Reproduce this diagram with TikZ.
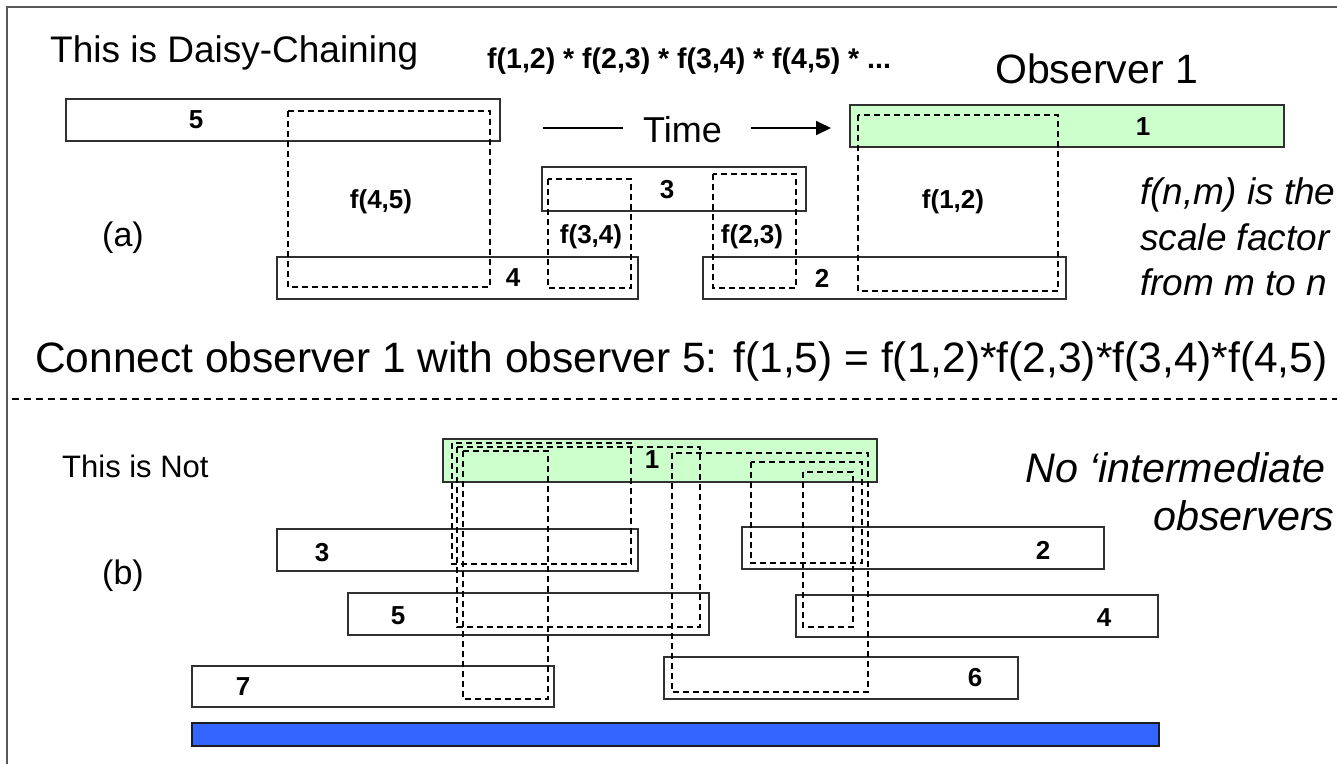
\documentclass[tikz,border=0pt]{standalone}
\usepackage{fontspec}
\setmainfont{Liberation Sans}
\usetikzlibrary{arrows.meta}
\definecolor{obsgreen}{HTML}{CCFFCC}
\definecolor{barblue}{HTML}{3366FF}
\definecolor{edge}{HTML}{303030}
\newcommand\obsbox[6]{%
  \node[#6, anchor=north west, minimum width={#4-#2}, minimum height={#5-#3}] (#1) at (#2,#3) {};}
\begin{document}
\begin{tikzpicture}[x=1pt,y=-1pt,
  obs/.style={draw=edge, line width=1.8pt, fill=white, inner sep=0pt, outer sep=0pt},
  obsone/.style={obs, fill=obsgreen},
  bar/.style={draw=edge!60!black, line width=1.8pt, fill=barblue, inner sep=0pt, outer sep=0pt},
  lbl/.style={font=\fontsize{26}{30}\selectfont\bfseries, inner sep=0pt},
  olap/.style={draw=black, line width=1.3pt, dash pattern=on 6pt off 4pt},
  big/.style={font=\fontsize{#1}{#1}\selectfont, inner sep=0pt, anchor=base west},
  itbig/.style={font=\fontsize{#1}{#1}\selectfont\itshape, inner sep=0pt, anchor=base west}]
\useasboundingbox (0,0) rectangle (1337,764);
\fill[white] (0,0) rectangle (1337,764);
% frame
\draw[gray!70!black, line width=2pt] (7,764) -- (7,7) -- (1337,7);

% ---------- (a) ----------
\node[big=37] (title) at (50,62) {This is Daisy-Chaining};
\node[font=\fontsize{28.5}{30}\selectfont\bfseries, inner sep=0pt, anchor=base west] (formula) at (487,68) {f(1,2) * f(2,3) * f(3,4) * f(4,5) * ...};
\node[big=41] (obsname) at (995,83) {Observer 1};

\obsbox{a5}{66}{99}{500}{141}{obs}
\obsbox{a3}{542}{167}{806}{211}{obs}
\obsbox{a4}{277}{257}{638}{299}{obs}
\obsbox{a2}{703}{257}{1066}{299}{obs}
\obsbox{a1}{850}{105}{1284}{147}{obsone}

\draw[olap] (288,111) rectangle (490,287);
\draw[olap] (548,179) rectangle (631,288);
\draw[olap] (713,174) rectangle (796,288);
\draw[olap] (858,115) rectangle (1058,291);

\node[lbl] (la5) at (196,120) {5};
\node[lbl] (la3) at (667,190) {3};
\node[lbl] (la4) at (513,278) {4};
\node[lbl] (la2) at (822,278) {2};
\node[lbl] (la1) at (1143,127) {1};
\node[lbl] (f45) at (381,202) {f(4,5)};
\node[lbl] (f34) at (591,237) {f(3,4)};
\node[lbl] (f23) at (752,237) {f(2,3)};
\node[lbl] (f12) at (953,202) {f(1,2)};

\node[font=\fontsize{34}{34}\selectfont, inner sep=0pt] (pa) at (123,238) {(a)};

% time arrow
\node[big=36] (time) at (643,142) {Time};
\coordinate (tstart) at (543,128);
\coordinate (tend) at (831,128);
\draw[line width=1.7pt] (tstart) -- ([xshift=-20pt]time.west |- tstart);
\draw[line width=1.7pt, -{Triangle[length=15pt,width=14pt]}] ([xshift=29pt]time.east |- tend) -- (tend);

\node[itbig=37] (def1) at (1140,204) {f(n,m) is the};
\node[itbig=37] (def2) at (1140,250) {scale factor};
\node[itbig=37] (def3) at (1140,295) {from m to n};

\node[big=42.5] (connect) at (35,372) {Connect observer 1 with observer 5: f(1,5) = f(1,2)*f(2,3)*f(3,4)*f(4,5)};

\coordinate (sepL) at (12,399);
\coordinate (sepR) at (1337,399);
\draw[line width=1.3pt, dash pattern=on 7pt off 5pt] (sepL) -- (sepR);

% ---------- (b) ----------
\node[big=31] (notitle) at (62,477) {This is Not};
\node[font=\fontsize{34}{34}\selectfont, inner sep=0pt] (pb) at (123,576) {(b)};

\obsbox{b1}{443}{439}{877}{482}{obsone}
\obsbox{b3}{277}{529}{638}{571}{obs}
\obsbox{b2}{742}{527}{1104}{569}{obs}
\obsbox{b5}{348}{593}{709}{635}{obs}
\obsbox{b4}{796}{595}{1158}{637}{obs}
\obsbox{b7}{192}{666}{554}{707}{obs}
\obsbox{b6}{664}{657}{1018}{699}{obs}
\obsbox{blue}{192}{723}{1159}{746}{bar}

\draw[olap] (452,443) rectangle (631,564);
\draw[olap] (457,447) rectangle (700,627);
\draw[olap] (463,451) rectangle (548,699);
\draw[olap] (672,453) rectangle (868,692);
\draw[olap] (751,462) rectangle (862,563);
\draw[olap] (803,472) rectangle (853,627);

\node[lbl] (lb1) at (652,460) {1};
\node[lbl] (lb3) at (322,553) {3};
\node[lbl] (lb2) at (1043,550) {2};
\node[lbl] (lb5) at (398,616) {5};
\node[lbl] (lb4) at (1104,618) {4};
\node[lbl] (lb7) at (243,687) {7};
\node[lbl] (lb6) at (975,678) {6};

\node[itbig=41.3] (noint) at (1025,482) {No ‘intermediate};
\node[itbig=41.3] (noobs) at (1153,530) {observers};
\end{tikzpicture}
\end{document}
